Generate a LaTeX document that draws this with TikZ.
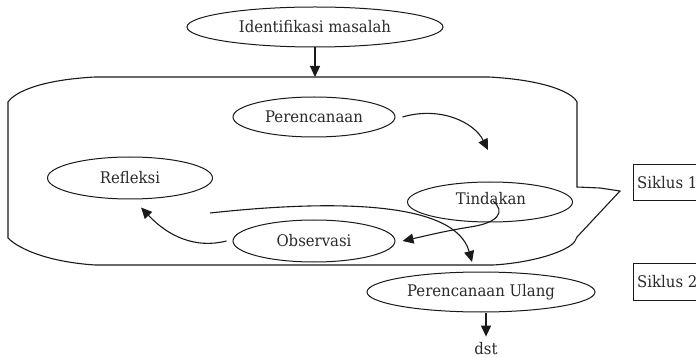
\documentclass[tikz,border=0pt]{standalone}
\usepackage{fontspec}
\setmainfont[FakeStretch=0.93]{DejaVu Serif}
\usetikzlibrary{shapes.geometric,arrows.meta}
\definecolor{ink}{HTML}{1A1A1A}
\definecolor{txt}{HTML}{2A2A2A}
\tikzset{
  ov/.style={draw=ink, line width=1pt, ellipse, inner sep=0pt, text=txt,
             font=\fontsize{16}{19}\selectfont},
  lbl/.style={text=txt, inner sep=0pt, font=\fontsize{16}{19}\selectfont},
  ln/.style={draw=ink, line width=1.1pt},
  arr/.style={ln, -{Triangle[length=11pt,width=10pt]}},
  sbox/.style={draw=ink, line width=1pt}
}
\begin{document}
\begin{tikzpicture}[x=1pt,y=-1pt]
\useasboundingbox (0,0) rectangle (696,358);
\clip (0,0) rectangle (696,358);
\fill[white] (0,0) rectangle (696,358);

% big cycle shape
\draw[ln] (95,77) -- (489,77)
  .. controls (544,80) and (572,92) .. (577,102)
  -- (577,187) -- (600,188) -- (620,191)
  -- (577,237) -- (575,241)
  .. controls (568,252) and (530,263) .. (493,265)
  -- (95,265)
  .. controls (50,262) and (20,250) .. (8,238)
  -- (8,102)
  .. controls (15,92) and (40,80) .. (95,77) -- cycle;

% nodes
\node[ov, minimum width=256pt, minimum height=40pt] (ident) at (315,27) {Identifikasi masalah};
\node[ov, minimum width=162pt, minimum height=40pt] (perenc) at (314,117) {Perencanaan};
\node[ov, minimum width=165pt, minimum height=42pt] (refl) at (130,178) {Refleksi};
\node[ov, minimum width=165pt, minimum height=40pt] (tind) at (490,202) {};
\node[lbl] (tindtxt) at (491,199) {Tindakan};
\node[ov, minimum width=162pt, minimum height=42pt] (obs) at (314,241) {Observasi};
\node[ov, minimum width=228pt, minimum height=40pt] (pu) at (481,292) {Perencanaan Ulang};
\node[lbl] (dst) at (486,349) {dst};

\draw[sbox] (633,165) rectangle (710,201);
\node[lbl, anchor=west] (s1) at (637,183) {Siklus 1};
\draw[sbox] (633,263) rectangle (710,300);
\node[lbl, anchor=west] (s2) at (637,282) {Siklus 2};

% connector coordinates
\coordinate (topin) at (315,77);
\coordinate (longstart) at (210,213);
\coordinate (longend) at (472,262);

% arrows
\draw[arr] (ident.south) -- (topin);
\draw[arr] ([xshift=7pt]perenc.east) .. controls (440,106) and (474,122) .. (488,150);
\draw[arr] ([shift={(2,2)}]tindtxt.center) .. controls (506,212) and (498,223) .. (470,227)
   .. controls (445,231) and (425,236) .. ([xshift=7pt]obs.east);
\draw[arr] ([xshift=-6pt]obs.west) .. controls (195,249) and (168,236) .. ([shift={(11,8)}]refl.south);
\draw[arr] (longstart) .. controls (330,200) and (455,200) .. (longend);
\draw[arr] ([xshift=5pt]pu.south) -- ([yshift=6pt]dst.north);
\end{tikzpicture}
\end{document}
